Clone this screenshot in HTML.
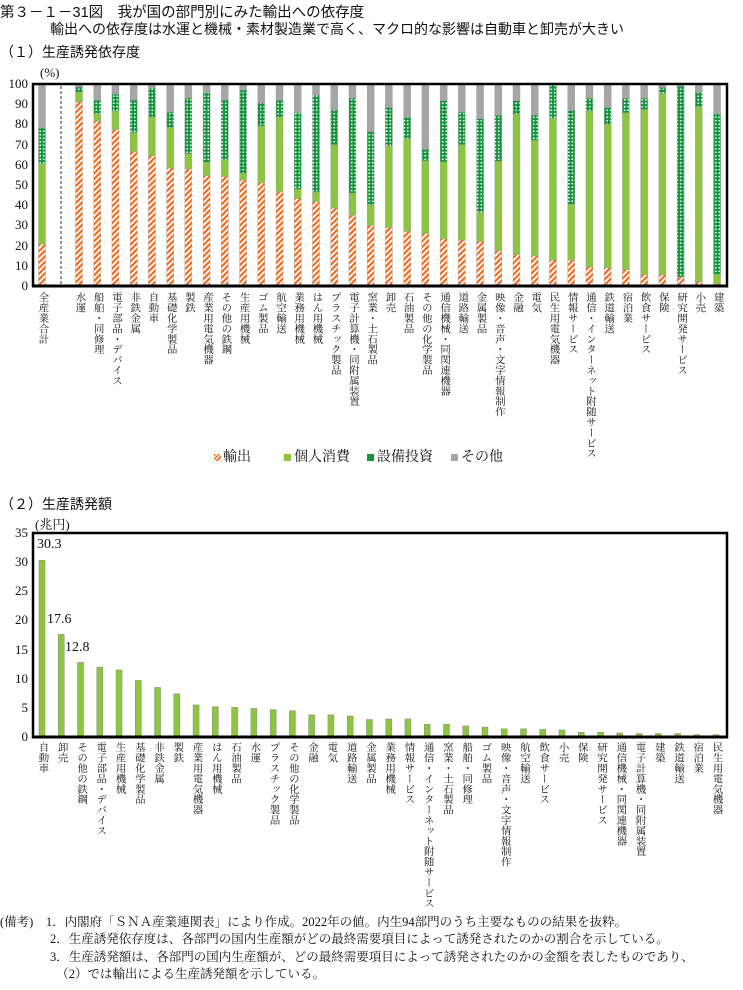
<!DOCTYPE html>
<html><head><meta charset="utf-8"><style>
body{margin:0;width:743px;height:990px;background:#fff;position:relative;overflow:hidden;font-family:"Liberation Serif","Noto Serif CJK SC",serif;color:#111}
.a{position:absolute;white-space:nowrap}
.g{font-family:"Liberation Sans","Noto Sans CJK JP",sans-serif}
.v{position:absolute;writing-mode:vertical-rl;font-size:10.4px;line-height:11px;letter-spacing:0}
.yl{position:absolute;font-size:13px;width:28px;text-align:right;line-height:13px}
</style></head><body>
<div class="a g" style="left:0;top:1px;font-size:14.5px">第３－１－31図　我が国の部門別にみた輸出への依存度</div>
<div class="a g" style="left:50px;top:19px;font-size:14px">輸出への依存度は水運と機械・素材製造業で高く、マクロ的な影響は自動車と卸売が大きい</div>
<div class="a g" style="left:0;top:42px;font-size:14px">（１）生産誘発依存度</div>
<div class="a" style="left:40px;top:65px;font-size:13px">(%)</div>
<div class="a g" style="left:0;top:494px;font-size:14px">（２）生産誘発額</div>
<div class="a" style="left:35px;top:514px;font-size:13px">(兆円)</div>
<div class="a" style="left:37px;top:537px;font-size:14px">30.3</div>
<div class="a" style="left:47px;top:612px;font-size:14px">17.6</div>
<div class="a" style="left:65px;top:640px;font-size:14px">12.8</div>
<svg id="s" width="743" height="990" style="position:absolute;left:0;top:0">
<defs>
<pattern id="h" width="4" height="4" patternUnits="userSpaceOnUse" patternTransform="rotate(45)"><rect width="4" height="4" fill="#fff"/><rect width="2.2" height="4" fill="#f26b1d"/></pattern>
<pattern id="d" width="3.5" height="3.5" patternUnits="userSpaceOnUse"><rect width="3.5" height="3.5" fill="#11973a"/><circle cx="1.75" cy="1.75" r="0.9" fill="#fff"/></pattern>
</defs>
<g id="gtop"></g><g id="gbot"></g>
</svg>
<div id="lab"></div>
<div class="a" style="left:214px;top:446px;font-size:14px"><span style="display:inline-block;width:7px;height:7px;background:repeating-linear-gradient(135deg,#f26b1d 0 1.5px,#fff 1.5px 3px);margin-right:2px"></span>輸出</div>
<div class="a" style="left:284px;top:446px;font-size:14px"><span style="display:inline-block;width:7px;height:7px;background:#8cc63f;margin-right:3px"></span>個人消費</div>
<div class="a" style="left:367px;top:446px;font-size:14px"><span style="display:inline-block;width:7px;height:7px;background:#11973a;margin-right:3px"></span>設備投資</div>
<div class="a" style="left:451px;top:446px;font-size:14px"><span style="display:inline-block;width:7px;height:7px;background:#a6a6a6;margin-right:3px"></span>その他</div>
<div class="a" style="left:0;top:914px;font-size:12.5px;line-height:17.3px">(備考)　1．内閣府「ＳＮＡ産業連関表」により作成。2022年の値。内生94部門のうち主要なものの結果を抜粋。<br>　　　　2．生産誘発依存度は、各部門の国内生産額がどの最終需要項目によって誘発されたのかの割合を示している。<br>　　　　3．生産誘発額は、各部門の国内生産額が、どの最終需要項目によって誘発されたのかの金額を表したものであり、<br>　　　　　（2）では輸出による生産誘発額を示している。</div>
<script>
(function(){
var NS="http://www.w3.org/2000/svg";
function el(p,t,a){var e=document.createElementNS(NS,t);for(var k in a)e.setAttribute(k,a[k]);p.appendChild(e);return e;}
var T=document.getElementById("gtop"),B=document.getElementById("gbot"),L=document.getElementById("lab");
function lab(x,y,t){var d=document.createElement("div");d.className="v";d.style.left=(x-5.5)+"px";d.style.top=y+"px";d.textContent=t;L.appendChild(d);}
function yl(y,t){var d=document.createElement("div");d.className="yl";d.style.left="0px";d.style.top=(y-7)+"px";d.textContent=t;L.appendChild(d);}
var tp=[["全産業合計",20.7,60.5,78.2],["水運",91,96,98.5],["船舶・同修理",81.5,85,92],["電子部品・デバイス",77.5,86.5,95],["非鉄金属",66.6,76,92],["自動車",64.5,83.6,98],["基礎化学製品",58.3,78.5,86],["製鉄",58,65.5,93],["産業用電気機器",54.7,61.3,96],["その他の鉄鋼",54.2,62.6,92],["生産用機械",52.5,55.7,97],["ゴム製品",51,79.2,90.6],["航空輸送",46.8,83.6,92],["業務用機械",43.3,48,85.8],["はん用機械",41.8,46.4,94.5],["プラスチック製品",38.5,70,87.4],["電子計算機・同附属装置",35,46,93],["窯業・土石製品",30,40.3,76.4],["卸売",29,69.3,88.3],["石油製品",27,73,83.6],["その他の化学製品",26,62,67.6],["通信機械・同関連機器",23.3,61.5,91.7],["道路輸送",22.6,70,86],["金属製品",22,36.4,82.8],["映像・音声・文字情報制作",17.5,61.8,84.6],["金融",15.5,85,91.7],["電気",14.9,72.2,84.6],["民生用電気機器",12.7,83,100],["情報サービス",12.7,40.5,87.1],["通信・インターネット附随サービス",9.3,86.6,93],["鉄道輸送",8.9,80,88.3],["宿泊業",8.1,85.8,93],["飲食サービス",5.6,87.4,93],["保険",5.6,95.5,98.3],["研究開発サービス",4.5,4.5,98.8],["小売",2,88.8,96],["建築",1,5.8,85.3]];
var y0=286,k=2.02;function Y(v){return y0-v*k;}
for(var i=0;i<=10;i++)yl(Y(i*10),String(i*10));
tp.forEach(function(r,i){var x=i==0?42:79+18.23*(i-1),w=7,l=x-w/2;
 var segs=[[0,r[1],"url(#h)"],[r[1],r[2],"#8cc63f"],[r[2],r[3],"url(#d)"],[r[3],100,"#a6a6a6"]];
 segs.forEach(function(s){if(s[1]-s[0]>0.05)el(T,"rect",{x:l,y:Y(s[1]),width:w,height:(s[1]-s[0])*k,fill:s[2],stroke:"#999","stroke-width":0.4});});
 lab(x,292,r[0]);});
el(T,"line",{x1:61,y1:86,x2:61,y2:285,stroke:"#333","stroke-width":1,"stroke-dasharray":"3,2"});
el(T,"rect",{x:33,y:84,width:694,height:202,fill:"none",stroke:"#000","stroke-width":2.5});
el(T,"line",{x1:32,y1:286,x2:728,y2:286,stroke:"#000","stroke-width":3});
var bt=[["自動車",30.3],["卸売",17.6],["その他の鉄鋼",12.8],["電子部品・デバイス",12.0],["生産用機械",11.5],["基礎化学製品",9.7],["非鉄金属",8.5],["製鉄",7.4],["産業用電気機器",5.5],["はん用機械",5.2],["石油製品",5.1],["水運",4.9],["プラスチック製品",4.7],["その他の化学製品",4.5],["金融",3.8],["電気",3.8],["道路輸送",3.6],["金属製品",3.0],["業務用機械",3.1],["情報サービス",3.1],["通信・インターネット附随サービス",2.2],["窯業・土石製品",2.2],["船舶・同修理",1.9],["ゴム製品",1.7],["映像・音声・文字情報制作",1.4],["航空輸送",1.4],["飲食サービス",1.3],["小売",1.2],["保険",0.8],["研究開発サービス",0.8],["通信機械・同関連機器",0.7],["電子計算機・同附属装置",0.6],["建築",0.6],["鉄道輸送",0.6],["宿泊業",0.4],["民生用電気機器",0.4]];
var b0=737,bk=5.83;
for(var i=0;i<=7;i++)yl(b0-i*5*bk,String(i*5));
bt.forEach(function(r,i){var x=42+19.26*i;el(B,"rect",{x:x-3,y:b0-r[1]*bk,width:6,height:r[1]*bk,fill:"#8cc63f",stroke:"#888","stroke-width":0.5});lab(x,742,r[0]);});
el(B,"rect",{x:33,y:533,width:694,height:204,fill:"none",stroke:"#000","stroke-width":2.5});
el(B,"line",{x1:32,y1:737,x2:728,y2:737,stroke:"#000","stroke-width":3});
})();
</script>
</body></html>
